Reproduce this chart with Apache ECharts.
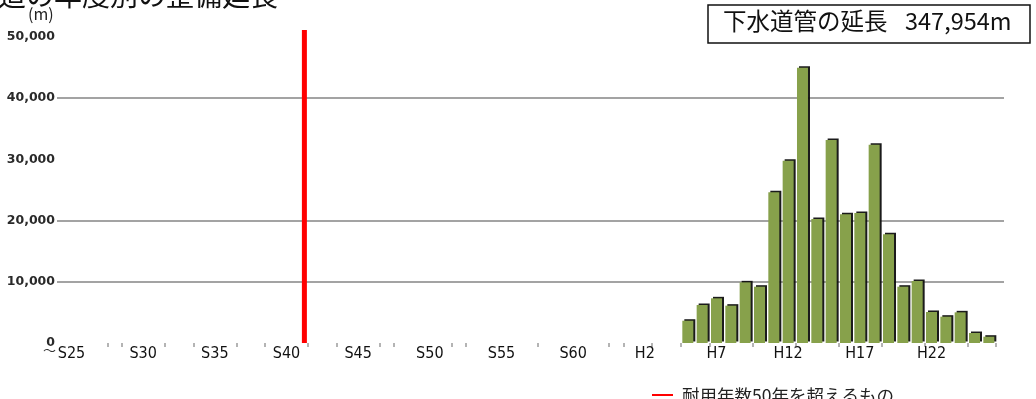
<!DOCTYPE html>
<html>
<head>
<meta charset="utf-8">
<script src="https://cdn.jsdelivr.net/npm/echarts@6/dist/echarts.min.js"></script>
<style>
  html, body { margin: 0; padding: 0; background: #ffffff; }
  #chart { width: 1036px; height: 399px; }
</style>
</head>
<body>
<div id="chart"></div>
<script>
// 年度（昭和25年〜昭和63年、平成元年〜平成26年）
const categories = [
  'S25','S26','S27','S28','S29','S30','S31','S32','S33','S34',
  'S35','S36','S37','S38','S39','S40','S41','S42','S43','S44',
  'S45','S46','S47','S48','S49','S50','S51','S52','S53','S54',
  'S55','S56','S57','S58','S59','S60','S61','S62','S63',
  'H1','H2','H3','H4','H5','H6','H7','H8','H9','H10',
  'H11','H12','H13','H14','H15','H16','H17','H18','H19','H20',
  'H21','H22','H23','H24','H25','H26'
];

// 整備延長（m）がある年度とその値
const barYears = [
  'H5','H6','H7','H8','H9','H10','H11','H12','H13','H14','H15',
  'H16','H17','H18','H19','H20','H21','H22','H23','H24','H25','H26'
];
const lengths = [
  3640, 6210, 7300, 6100, 9910, 9200, 24620, 29790, 44990, 20260, 33170,
  21030, 21240, 32400, 17760, 9200, 10130, 5070, 4300, 5010, 1630, 1030
];

// 縦軸の目盛
const yTicks = [0, 10000, 20000, 30000, 40000, 50000];
const yTickLabels = ['0', '10,000', '20,000', '30,000', '40,000', '50,000'];

// 耐用年数50年の境界線（年度軸上の位置）と線の上端
const limitPos = [16.25];
const limitTop = [51150];

// 目盛線を描く年度境界
const tickBoundaries = [3,4,7,9,12,14,17,19,22,23,27,28,33,38,39,41,43,45,48,51,54,57,60,63];

const totalLabel = '下水道管の延長';
const totalValue = '347,954m';
const titleText = '下水道の年度別の整備延長';
const legendText = '耐用年数50年を超えるもの';

const barData = categories.map(c => {
  const i = barYears.indexOf(c);
  return i >= 0 ? lengths[i] : null;
});
const tickSet = new Set(tickBoundaries);

const GREEN = '#87a14b';
const cjk = '"Noto Sans CJK JP", "Noto Sans", sans-serif';

const chart = echarts.init(document.getElementById('chart'), null, { renderer: 'canvas' });

chart.setOption({
  animation: false,
  backgroundColor: '#ffffff',
  grid: [
    { left: 57, right: 32, top: 37, bottom: 56 },          // 目盛線・縦軸ラベル
    { left: 64.3, width: 931.7, top: 37, bottom: 56 }      // 棒グラフ
  ],
  xAxis: [
    { type: 'value', gridIndex: 0, min: 0, max: 1, show: false },
    {
      type: 'category', gridIndex: 1, data: categories,
      axisLine: { show: false },
      axisTick: {
        show: true, length: 4,
        interval: (idx) => tickSet.has(idx),
        lineStyle: { color: '#b4b4b4', width: 2 }
      },
      axisLabel: {
        interval: 4, margin: 3,
        color: '#111111',
        fontFamily: '"Liberation Sans Narrow", "DejaVu Sans Condensed", sans-serif',
        fontSize: 16
      },
      splitLine: { show: false }
    },
    { type: 'value', gridIndex: 1, min: -0.5, max: categories.length - 0.5, show: false }
  ],
  yAxis: [
    {
      type: 'value', gridIndex: 0, min: 0, max: 50000, interval: 10000,
      axisLine: { show: false }, axisTick: { show: false },
      axisLabel: {
        margin: 2, color: '#2a2a2a',
        fontFamily: '"DejaVu Sans", sans-serif', fontWeight: 'bold', fontSize: 12.5,
        formatter: (v) => yTickLabels[yTicks.indexOf(v)]
      },
      splitLine: {
        show: true, showMinLine: true, showMaxLine: true,
        lineStyle: {
          color: ['rgba(0,0,0,0)', '#a3a3a3', '#a3a3a3', 'rgba(0,0,0,0)', '#a3a3a3', 'rgba(0,0,0,0)'],
          width: 2
        }
      }
    },
    { type: 'value', gridIndex: 1, min: 0, max: 50000, show: false }
  ],
  series: [
    {
      type: 'bar', xAxisIndex: 1, yAxisIndex: 1,
      data: barData, barWidth: 11,
      itemStyle: {
        color: GREEN,
        shadowColor: 'rgba(15,15,15,0.95)', shadowBlur: 0, shadowOffsetX: 2, shadowOffsetY: -1.5
      }
    },
    {
      type: 'line', xAxisIndex: 2, yAxisIndex: 1, clip: false,
      data: [[limitPos[0], 0], [limitPos[0], limitTop[0]]],
      symbol: 'none',
      lineStyle: { color: '#ff0000', width: 5 }
    }
  ],
  graphic: [
    {
      type: 'text', left: -58, top: -19,
      style: { text: titleText, font: '28px ' + cjk, fill: '#111111' }
    },
    {
      type: 'text', left: 28, top: 6,
      style: { text: '(m)', font: '16px ' + cjk, fill: '#222222' }
    },
    {
      type: 'text', left: 43, top: 344,
      style: { text: '〜', font: '13px ' + cjk, fill: '#333333' }
    },
    {
      type: 'rect', shape: { x: 708, y: 5, width: 322, height: 38 },
      style: { fill: '#ffffff', stroke: '#111111', lineWidth: 1.5 }
    },
    {
      type: 'text', left: 723, top: 9,
      style: { text: totalLabel, font: '23.5px ' + cjk, fill: '#111111' }
    },
    {
      type: 'text', left: 905, top: 9,
      style: { text: totalValue, font: '23.5px ' + cjk, fill: '#111111' }
    },
    {
      type: 'line', shape: { x1: 652, y1: 395, x2: 673, y2: 395 },
      style: { stroke: '#ff0000', lineWidth: 2 }
    },
    {
      type: 'text', left: 682, top: 387,
      style: { text: legendText, font: '17.5px ' + cjk, fill: '#222222' }
    }
  ]
});
</script>
</body>
</html>
